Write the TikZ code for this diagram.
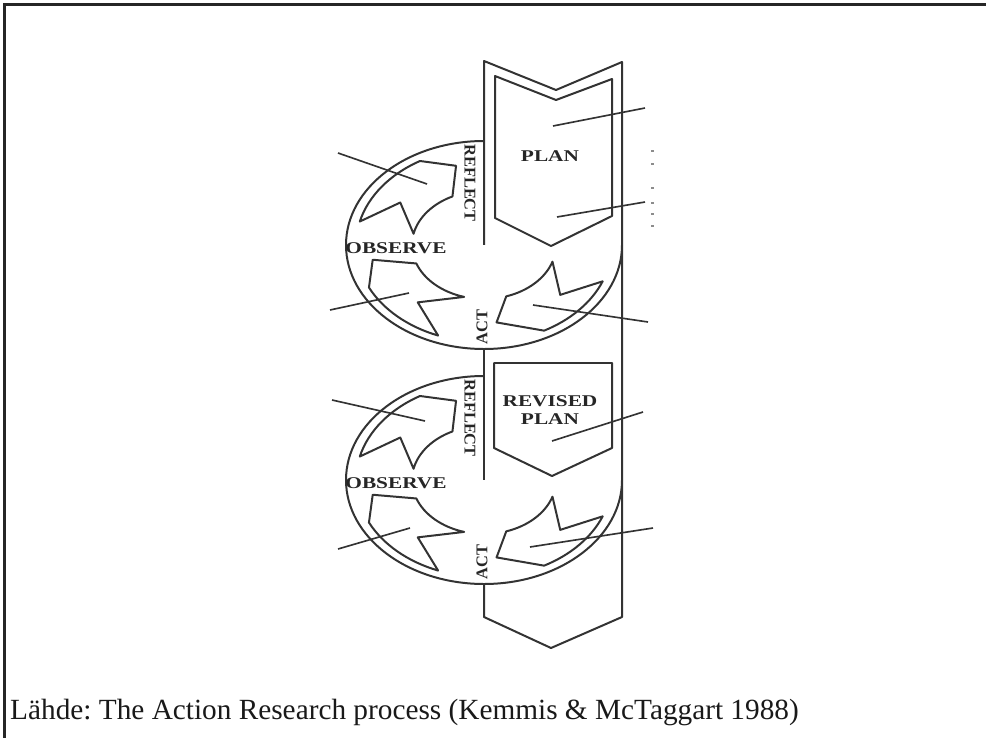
\documentclass[tikz,border=0pt]{standalone}
\usepackage{fontspec}
\setmainfont{Liberation Serif}
\usetikzlibrary{positioning}
\frenchspacing

\begin{document}
\begin{tikzpicture}[x=0.03cm, y=-0.03cm,
    line/.style={draw=black!80, line width=1.7pt, line join=round},
    leader/.style={draw=black!80, line width=1.4pt},
    stage/.style={font=\fontsize{14}{15}\selectfont\bfseries, text=black!85,
        inner sep=0pt}]
    \useasboundingbox (0,0) rectangle (986,738);
    % frame, open to the right and at the bottom
    \draw[black!85, line width=2.6pt] (4.5,738) -- (4.5,4.5) -- (986,4.5);

    % plan band running down through both cycles
    \draw[line] (484,245) -- (484,61) -- (556,90) -- (622,62) -- (622,617)
        -- (551,648) -- (484,617) -- (484,583);
    \draw[line] (484,349) -- (484,480);
    \draw[line] (495,76) -- (556,100) -- (612,79) -- (612,216) -- (551,246)
        -- (495,218) -- cycle;
    \draw[line] (494,363) -- (612,363) -- (612,448) -- (552,476) -- (494,448)
        -- cycle;
    \node[stage, xscale=1.3] (plan) at (550,156) {PLAN};
    \node[stage, xscale=1.3, align=center] (revplan) at (550,410) {REVISED\\PLAN};

    % act -> observe -> reflect
    \foreach \cy/\i in {245/1, 480/2} {
        \begin{scope}[shift={(484,\cy)}]
            \draw[line] (0:138 and 104) arc[start angle=0, end angle=270,
                x radius=138, y radius=104];
            \draw[line] (194:128 and 97) arc[start angle=194, end angle=240,
                x radius=128, y radius=97] -- (255:108 and 82) -- (244:72 and 54)
                arc[start angle=244, end angle=192, x radius=72, y radius=54]
                -- (214:101 and 76) -- cycle;
            \draw[line] (111:128 and 97) arc[start angle=111, end angle=154,
                x radius=128, y radius=97] -- (170:113 and 85) -- (160:72 and 54)
                arc[start angle=160, end angle=106, x radius=72, y radius=54]
                -- (131:101 and 76) -- cycle;
            \draw[line] (22:128 and 97) arc[start angle=22, end angle=62,
                x radius=128, y radius=97] -- (83:103 and 78) -- (72:72 and 54)
                arc[start angle=72, end angle=18, x radius=72, y radius=54]
                -- (41:101 and 76) -- cycle;
            \node[stage, rotate=-90] (reflect\i) at (-14,-62) {REFLECT};
            \node[stage, xscale=1.3] (observe\i) at (-88,3) {OBSERVE};
            \node[stage, rotate=90] (act\i) at (-2,82) {ACT};
        \end{scope}
    }

    % leader lines
    \foreach \n/\ax/\ay/\bx/\by in {rf1/338/153/427/184, ob1/330/310/409/293,
        ac1/648/322/533/305, pl1/645/108/553/126, pl2/645/202/557/217,
        rf2/332/400/425/421, ob2/338/549/410/528, ac2/653/528/530/547,
        rp1/643/412/552/441} {
        \coordinate (\n-a) at (\ax,\ay);
        \coordinate (\n-b) at (\bx,\by);
        \draw[leader] (\n-a) -- (\n-b);
    }
    \foreach \yy in {150,163,187,202,213,225}
        \fill[black!45] (651,\yy) rectangle (653.5,\yy+2.5);

    \node[anchor=base west, inner sep=0pt, text=black!90,
        font=\fontsize{25}{25}\selectfont] (source) at (10,719)
        {Lähde: The Action Research process (Kemmis \& McTaggart 1988)};
\end{tikzpicture}
\end{document}
